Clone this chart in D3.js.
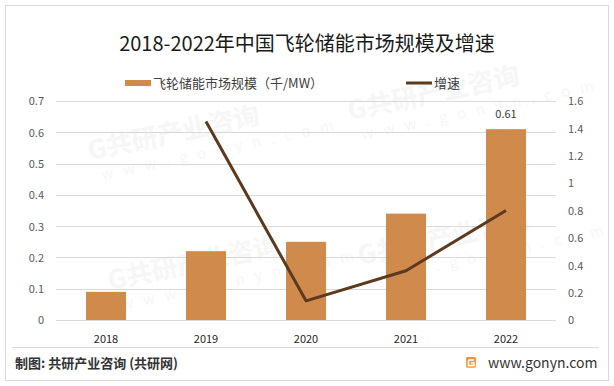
<!DOCTYPE html>
<html>
<head>
<meta charset="utf-8">
<script src="https://cdn.jsdelivr.net/npm/d3@7"></script>
<style>
  html, body { margin: 0; padding: 0; background: #fff; }
  svg { display: block; }
  text { font-family: "Noto Sans CJK SC", "Noto Sans", sans-serif; }
</style>
</head>
<body>
<svg id="chart" width="614" height="386"></svg>
<script>
const categories = ["2018", "2019", "2020", "2021", "2022"];
const scaleValues = [0.09, 0.22, 0.25, 0.34, 0.61];
const growthValues = [null, 1.45, 0.14, 0.36, 0.80];
const leftTicks = [0, 0.1, 0.2, 0.3, 0.4, 0.5, 0.6, 0.7];
const rightTicks = [0, 0.2, 0.4, 0.6, 0.8, 1, 1.2, 1.4, 1.6];
const titleText = "2018-2022年中国飞轮储能市场规模及增速";
const barLabel = "飞轮储能市场规模（千/MW）";
const lineLabel = "增速";
const sourceText = "制图: 共研产业咨询 (共研网)";
const siteText = "www.gonyn.com";

const svg = d3.select("#chart");
const plot = { left: 56, right: 556, top: 101, bottom: 320 };

// outer border
svg.append("rect").attr("x", 5.5).attr("y", 5.5).attr("width", 603).attr("height", 375)
  .attr("fill", "#fff").attr("stroke", "#d9d9d9").attr("stroke-width", 1);

// faint watermarks (kept inside the frame)
const wm = svg.append("g");
const wmPos = [[90, 160], [350, 120], [110, 290], [360, 265]];
wmPos.forEach(([x, y]) => {
  const g = wm.append("g").attr("transform", `translate(${x},${y}) rotate(-12)`);
  g.append("text").attr("x", 0).attr("y", 0).attr("font-size", 26).attr("font-weight", "bold")
    .attr("fill", "#f6f6f6").text("G共研产业咨询");
  g.append("text").attr("x", 8).attr("y", 22).attr("font-size", 15)
    .attr("fill", "#f6f6f6").attr("letter-spacing", 10).text("www.gonyn.com");
});

const x = d3.scaleBand().domain(categories).range([plot.left, plot.right]).paddingInner(0.6).paddingOuter(0.3);
const yL = d3.scaleLinear().domain([0, 0.7]).range([plot.bottom, plot.top]);
const yR = d3.scaleLinear().domain([0, 1.6]).range([plot.bottom, plot.top]);

// gridlines
svg.append("g").selectAll("line").data(leftTicks).join("line")
  .attr("x1", plot.left).attr("x2", plot.right)
  .attr("y1", d => Math.round(yL(d)) + 0.5).attr("y2", d => Math.round(yL(d)) + 0.5)
  .attr("stroke", "#d9d9d9").attr("stroke-width", 1);

// left axis
const leftAxis = svg.append("g").attr("transform", `translate(${plot.left - 12},0)`)
  .call(d3.axisLeft(yL).tickValues(leftTicks).tickSize(0).tickFormat(d => String(+d.toFixed(1))));
leftAxis.select(".domain").remove();
leftAxis.selectAll("text").attr("font-size", 11).attr("fill", "#595959").attr("x", 0).attr("dy", "0.35em");

// right axis
const rightAxis = svg.append("g").attr("transform", `translate(${plot.right + 12},0)`)
  .call(d3.axisRight(yR).tickValues(rightTicks).tickSize(0).tickFormat(d => String(+d.toFixed(1))));
rightAxis.select(".domain").remove();
rightAxis.selectAll("text").attr("font-size", 11).attr("fill", "#595959").attr("x", 0).attr("dy", "0.35em");

// bars
svg.append("g").selectAll("rect").data(categories).join("rect")
  .attr("x", d => x(d)).attr("width", x.bandwidth())
  .attr("y", (d, i) => yL(scaleValues[i]))
  .attr("height", (d, i) => yL(0) - yL(scaleValues[i]))
  .attr("fill", "#D08A4C");

// data label for last bar
svg.append("text")
  .attr("x", x("2022") + x.bandwidth() / 2).attr("y", yL(scaleValues[4]) - 11)
  .attr("text-anchor", "middle").attr("font-size", 11).attr("fill", "#404040")
  .text(scaleValues[4].toFixed(2));

// line
const lineData = categories.map((c, i) => ({ c, v: growthValues[i] })).filter(d => d.v !== null);
svg.append("path").datum(lineData)
  .attr("d", d3.line().x(d => x(d.c) + x.bandwidth() / 2).y(d => yR(d.v)))
  .attr("fill", "none").attr("stroke", "#5C3A1E").attr("stroke-width", 3).attr("stroke-linejoin", "round");

// x axis labels
const xAxis = svg.append("g").attr("transform", `translate(0,${plot.bottom + 12})`)
  .call(d3.axisBottom(x).tickSize(0));
xAxis.select(".domain").remove();
xAxis.selectAll("text").attr("font-size", 11).attr("fill", "#262626").attr("dy", "0.71em");

// title
svg.append("text").attr("x", 307).attr("y", 51).attr("text-anchor", "middle")
  .attr("font-size", 20).attr("fill", "#1a1a1a").text(titleText);

// legend
svg.append("rect").attr("x", 125).attr("y", 80).attr("width", 26).attr("height", 6).attr("fill", "#D08A4C");
svg.append("text").attr("x", 153).attr("y", 88).attr("font-size", 13).attr("fill", "#404040").text(barLabel);
svg.append("line").attr("x1", 406).attr("x2", 432).attr("y1", 83).attr("y2", 83)
  .attr("stroke", "#5C3A1E").attr("stroke-width", 3);
svg.append("text").attr("x", 434).attr("y", 88).attr("font-size", 13).attr("fill", "#404040").text(lineLabel);

// footer separator
svg.append("line").attr("x1", 12).attr("x2", 599).attr("y1", 347.5).attr("y2", 347.5)
  .attr("stroke", "#d9d9d9").attr("stroke-width", 1);
svg.append("text").attr("x", 15).attr("y", 368).attr("font-size", 13).attr("font-weight", "bold")
  .attr("fill", "#333").text(sourceText);

// logo
const grad = svg.append("defs").append("linearGradient").attr("id", "lg").attr("x1", 0).attr("y1", 0).attr("x2", 0).attr("y2", 1);
grad.append("stop").attr("offset", "0%").attr("stop-color", "#F08A3C");
grad.append("stop").attr("offset", "100%").attr("stop-color", "#F8B552");
const logo = svg.append("g").attr("transform", "translate(466,357)");
logo.append("rect").attr("width", 10).attr("height", 11).attr("rx", 1.5).attr("fill", "url(#lg)");
logo.append("path").attr("d", "M2.5,3 H8 M5,6 H8 V8.5 H2.5 V3").attr("fill", "none").attr("stroke", "#fff").attr("stroke-width", 1.4);
svg.append("text").attr("x", 488).attr("y", 368).attr("font-size", 14).attr("fill", "#333").text(siteText);
</script>
</body>
</html>
